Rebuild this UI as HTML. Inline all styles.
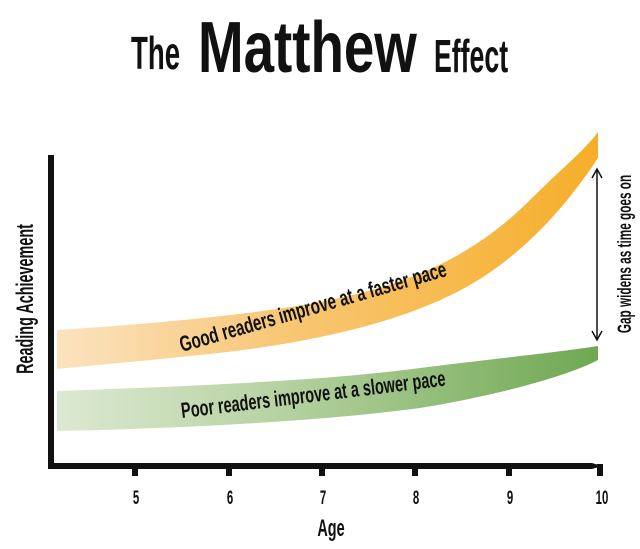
<!DOCTYPE html>
<html><head><meta charset="utf-8"><style>
html,body{margin:0;padding:0;background:#fff;}
svg{display:block;}
text{font-family:"Liberation Sans",sans-serif;font-weight:bold;fill:#111;}
</style></head><body>
<svg width="640" height="549" viewBox="0 0 640 549">
<defs>
<linearGradient id="og" x1="0" x2="1" y1="0" y2="0">
<stop offset="0" stop-color="#fbe3c0"/><stop offset="0.4" stop-color="#f8c878"/><stop offset="1" stop-color="#f6ae2a"/>
</linearGradient>
<linearGradient id="gg" x1="0" x2="1" y1="0" y2="0">
<stop offset="0" stop-color="#dde9d2"/><stop offset="0.4" stop-color="#b7d3a2"/><stop offset="1" stop-color="#6fa852"/>
</linearGradient>
</defs>
<text x="0" y="0" font-size="46" transform="translate(131,69) scale(0.6,1)">The</text>
<text x="0" y="0" font-size="72" transform="translate(198,72) scale(0.76,1)">Matthew</text>
<text x="0" y="0" font-size="46" transform="translate(434,72) scale(0.58,1)">Effect</text>
<path d="M57,330 C180,322 270,312 330,300 C420,282 480,250 530,200 C560,170 585,150 598,132 L598,158 C570,200 530,250 470,285 C400,325 300,345 200,355 C130,362 90,366 57,369 Z" fill="url(#og)"/>
<path d="M57,391 C200,386 330,380 420,368 C500,358 560,352 598,346 L598,360 C570,375 500,395 420,408 C330,420 200,428 57,431 Z" fill="url(#gg)"/>
<rect x="48" y="155" width="6" height="314" fill="#111"/>
<path d="M48,463 L592,463 L602,466 L592,469 L48,469 Z" fill="#111"/>
<g fill="#111"><rect x="132" y="466" width="6" height="10"/><rect x="226" y="466" width="6" height="10"/><rect x="319" y="466" width="6" height="10"/><rect x="412" y="466" width="6" height="10"/><rect x="506" y="466" width="6" height="10"/><rect x="597" y="464" width="6" height="12"/></g>
<g font-size="19" text-anchor="middle">
<text x="0" y="0" transform="translate(136,504) scale(0.6,1)">5</text>
<text x="0" y="0" transform="translate(230,504) scale(0.6,1)">6</text>
<text x="0" y="0" transform="translate(323,504) scale(0.6,1)">7</text>
<text x="0" y="0" transform="translate(416,504) scale(0.6,1)">8</text>
<text x="0" y="0" transform="translate(510,504) scale(0.6,1)">9</text>
<text x="0" y="0" transform="translate(602,504) scale(0.6,1)">10</text>
</g>
<text x="0" y="0" font-size="24" text-anchor="middle" transform="translate(331,536) scale(0.6,1)">Age</text>
<text x="0" y="0" font-size="24" text-anchor="middle" transform="translate(33,299) rotate(-90) scale(0.6,1)">Reading Achievement</text>
<text x="0" y="0" font-size="22" transform="translate(182,352) rotate(-16) scale(0.69,1)">Good readers improve at a faster pace</text>
<text x="0" y="0" font-size="22" transform="translate(182,418) rotate(-7) scale(0.66,1)">Poor readers improve at a slower pace</text>
<line x1="597" y1="170" x2="597" y2="339" stroke="#111" stroke-width="1.5"/>
<path d="M592,178 L597,169 L602,178 M592,331 L597,340 L602,331" fill="none" stroke="#111" stroke-width="1.5"/>
<text x="0" y="0" font-size="19" text-anchor="middle" transform="translate(631,254) rotate(-90) scale(0.62,1)">Gap widens as time goes on</text>
</svg>
</body></html>
